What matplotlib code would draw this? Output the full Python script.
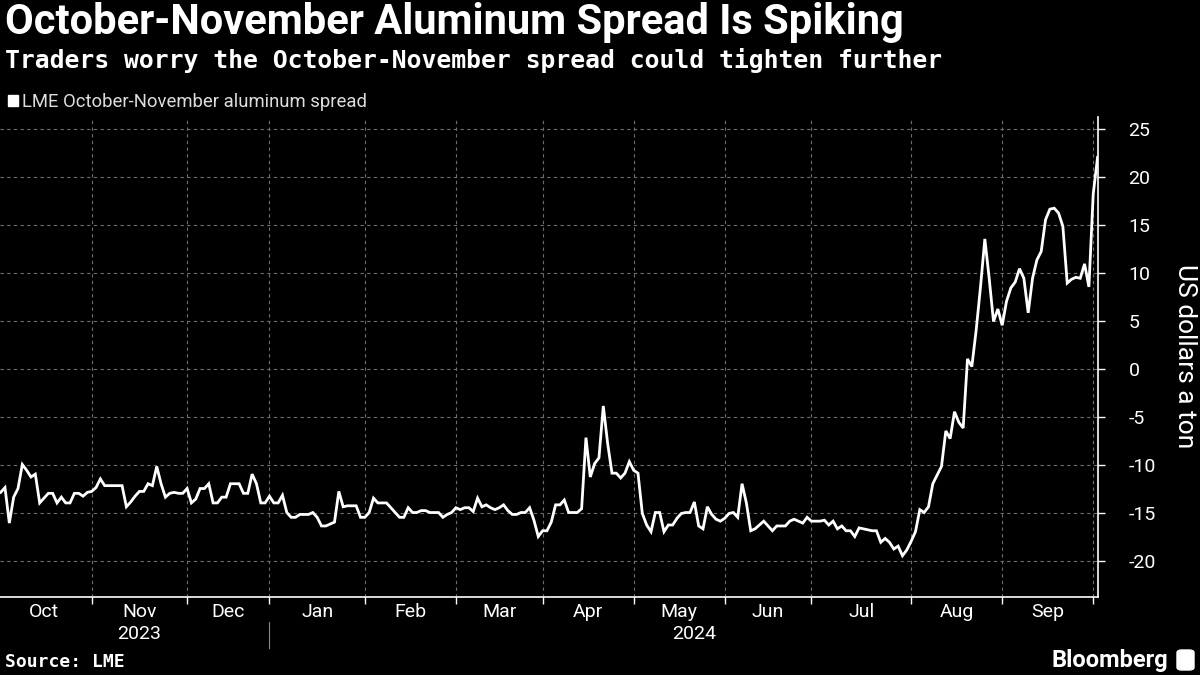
import numpy as np
import pandas as pd
import matplotlib
matplotlib.use("Agg")
import matplotlib.pyplot as plt
from matplotlib.patches import Rectangle, FancyBboxPatch

# -------------------------------
# DATA (LME trading days, Oct 3 2023 - Oct 2 2024)
# -------------------------------
holidays = ["2023-12-25", "2023-12-26", "2024-01-01", "2024-03-29",
            "2024-04-01", "2024-05-06", "2024-05-27", "2024-08-26"]
dates = pd.bdate_range("2023-10-03", "2024-10-02")
dates = dates[~dates.isin(pd.to_datetime(holidays))]

spread = [
    # Oct 2023
    -12.9, -12.4, -16.1, -13.4, -12.5, -10.0, -10.6, -11.3, -11.0, -14.0, -13.5,
    -13.0, -13.0, -14.0, -13.4, -14.0, -14.0, -13.0, -13.0, -13.3, -12.9,
    # Nov
    -12.8, -12.4, -11.5, -12.2, -12.2, -12.2, -12.2, -12.2, -14.4, -13.9, -13.3,
    -12.8, -12.8, -12.0, -12.2, -10.2, -12.0, -13.4, -13.0, -12.9, -13.0, -13.0,
    # Dec
    -12.5, -14.0, -13.6, -12.5, -12.5, -12.0, -14.0, -14.0, -13.4, -13.4, -12.0,
    -12.0, -12.0, -13.0, -13.0, -11.0, -12.0, -14.0, -14.0,
    # Jan 2024
    -13.3, -14.0, -14.0, -13.2, -15.0, -15.5, -15.5, -15.2, -15.2, -15.2, -15.0,
    -15.5, -16.4, -16.4, -16.2, -16.0, -12.8, -14.4, -14.3, -14.3, -14.3, -15.5,
    # Feb
    -15.5, -15.0, -13.5, -14.0, -14.0, -14.0, -14.5, -15.0, -15.5, -15.5, -14.5,
    -15.0, -15.0, -14.8, -14.8, -15.0, -15.0, -15.0, -15.5, -15.2, -15.0,
    # Mar
    -14.5, -14.7, -14.5, -14.5, -14.9, -13.5, -14.4, -14.2, -14.5, -14.7, -14.5,
    -14.2, -14.8, -15.2, -15.2, -15.0, -15.0, -14.5, -15.8, -17.5,
    # Apr
    -16.9, -16.9, -16.0, -14.2, -14.2, -13.7, -15.0, -15.0, -15.0, -14.6, -7.2,
    -11.3, -9.9, -9.3, -3.9, -7.8, -10.9, -10.9, -11.4, -10.9, -9.7,
    # May
    -10.6, -10.9, -15.1, -16.3, -17.0, -15.0, -15.0, -17.0, -16.3, -16.3, -15.6,
    -15.1, -15.0, -15.0, -13.9, -16.4, -16.7, -14.4, -15.2, -15.7, -15.9,
    # Jun
    -15.6, -15.1, -15.0, -15.5, -12.0, -14.0, -16.9, -16.7, -16.3, -15.9, -16.4,
    -16.9, -16.4, -16.4, -16.4, -15.9, -15.7, -15.9, -16.1, -15.5,
    # Jul
    -15.9, -15.9, -15.9, -15.8, -16.3, -15.9, -16.7, -16.4, -16.9, -16.9, -17.5,
    -16.6, -16.7, -16.8, -16.9, -16.9, -18.1, -17.7, -18.1, -18.8, -18.5, -19.5, -18.9,
    # Aug
    -18.0, -17.0, -14.7, -15.0, -14.4, -12.0, -11.1, -10.2, -6.5, -7.3, -4.5,
    -5.6, -6.2, 1.0, 0.2, 4.0, 8.5, 13.5, 9.4, 4.9, 6.2,
    # Sep
    4.5, 7.0, 8.4, 9.0, 10.4, 9.4, 5.8, 9.4, 11.3, 12.2, 15.5,
    16.6, 16.7, 16.2, 14.8, 8.9, 9.3, 9.5, 9.4, 10.9, 8.5,
    # Oct 2024
    18.2, 22.0,
]

month_labels = ["Oct", "Nov", "Dec", "Jan", "Feb", "Mar", "Apr",
                "May", "Jun", "Jul", "Aug", "Sep"]
year_labels = ["2023", "2024"]
year_anchor = ["2023-11-16", "2024-05-22"]
y_ticks = [-20, -15, -10, -5, 0, 5, 10, 15, 20, 25]

# -------------------------------
# STYLE
# -------------------------------
BG = "black"
FG = "white"
GRID = "#6e6e6e"
NARROW = ["Liberation Sans Narrow", "Roboto", "DejaVu Sans"]
MONO = ["DejaVu Sans Mono"]

x = np.arange(len(dates))
s = pd.Series(spread, index=dates)

# first trading day of each month -> gridlines
periods = dates.to_period("M")
month_starts = [i for i in range(1, len(dates)) if periods[i] != periods[i - 1]]
bounds = [-1] + month_starts
label_pos = [(bounds[k] + bounds[k + 1]) / 2 for k in range(len(month_labels))]

fig = plt.figure(figsize=(12, 6.75), dpi=100, facecolor=BG)
ax = fig.add_axes([0.0, 1 - 597 / 675, 1098 / 1200, (597 - 117) / 675])
ax.set_facecolor(BG)

ax.plot(x, s.values, color=FG, lw=2.0, solid_joinstyle="miter", zorder=3)

ax.set_xlim(-0.15, len(x) - 1 + 0.1)
ax.set_ylim(-23.8, 26.2)

# x axis
ax.set_xticks(month_starts)
ax.set_xticklabels([])
ax.set_xticks(label_pos, minor=True)
ax.set_xticklabels(month_labels, minor=True)
ax.tick_params(axis="x", which="major", length=5, width=1, color=FG, direction="out")
ax.tick_params(axis="x", which="minor", length=0, pad=4, labelsize=14, labelcolor=FG)
for t in ax.get_xticklabels(minor=True):
    t.set_family(NARROW)

# y axis on the right
ax.yaxis.tick_right()
ax.set_yticks(y_ticks)
ax.set_yticklabels([f"{v}" for v in y_ticks])
ax.tick_params(axis="y", length=5, width=1, color=FG, pad=17, labelsize=14, labelcolor=FG)
for t in ax.get_yticklabels():
    t.set_family(NARROW)

ax.grid(axis="y", color=GRID, lw=0.8, ls=(0, (3, 3)))
ax.grid(axis="x", which="major", color=GRID, lw=0.8, ls=(0, (3, 3)))

for side in ["top", "left"]:
    ax.spines[side].set_visible(False)
for side in ["right", "bottom"]:
    ax.spines[side].set_color(FG)
    ax.spines[side].set_linewidth(1.2)

# year labels + separator
for lab, d in zip(year_labels, year_anchor):
    xi = dates.get_loc(pd.Timestamp(d))
    ax.text(xi, -0.058, lab, transform=ax.get_xaxis_transform(), ha="center",
            va="top", color=FG, fontsize=14, family=NARROW, clip_on=False)
jan = dates.get_loc(pd.Timestamp("2024-01-02"))
ax.plot([jan, jan], [-0.052, -0.107], transform=ax.get_xaxis_transform(),
        color="#888888", lw=0.8, clip_on=False)

fig.text(1185 / 1200, 1 - 356 / 675, "US dollars a ton", rotation=-90, color=FG,
         fontsize=19, family=NARROW, ha="center", va="center")

# -------------------------------
# TEXT
# -------------------------------
fig.text(5 / 1200, 1 - 34 / 675, "October-November Aluminum Spread Is Spiking",
         color=FG, fontsize=30, fontweight="bold", family=NARROW, va="baseline")
fig.text(5 / 1200, 1 - 68 / 675,
         "Traders worry the October-November spread could tighten further",
         color=FG, fontsize=17.8, fontweight="bold", family=MONO, va="baseline")

fig.patches.append(Rectangle((8 / 1200, 1 - 106 / 675), 10 / 1200, 11 / 675,
                             transform=fig.transFigure, color=FG))
fig.text(22 / 1200, 1 - 107 / 675, "LME October-November aluminum spread",
         color="#dddddd", fontsize=13.3, family=NARROW, va="baseline")

fig.text(5 / 1200, 1 - 667 / 675, "Source: LME", color=FG, fontsize=13,
         fontweight="bold", family=MONO, va="baseline")
fig.text(1168 / 1200, 1 - 667 / 675, "Bloomberg", color=FG, fontsize=17,
         fontweight="bold", family=NARROW, va="baseline", ha="right")
fig.patches.append(FancyBboxPatch((1177 / 1200, 1 - 670 / 675), 17 / 1200, 20 / 675,
                                  boxstyle="round,pad=0,rounding_size=0.004",
                                  transform=fig.transFigure, color=FG))

plt.savefig("out.png", dpi=100, facecolor=BG)
